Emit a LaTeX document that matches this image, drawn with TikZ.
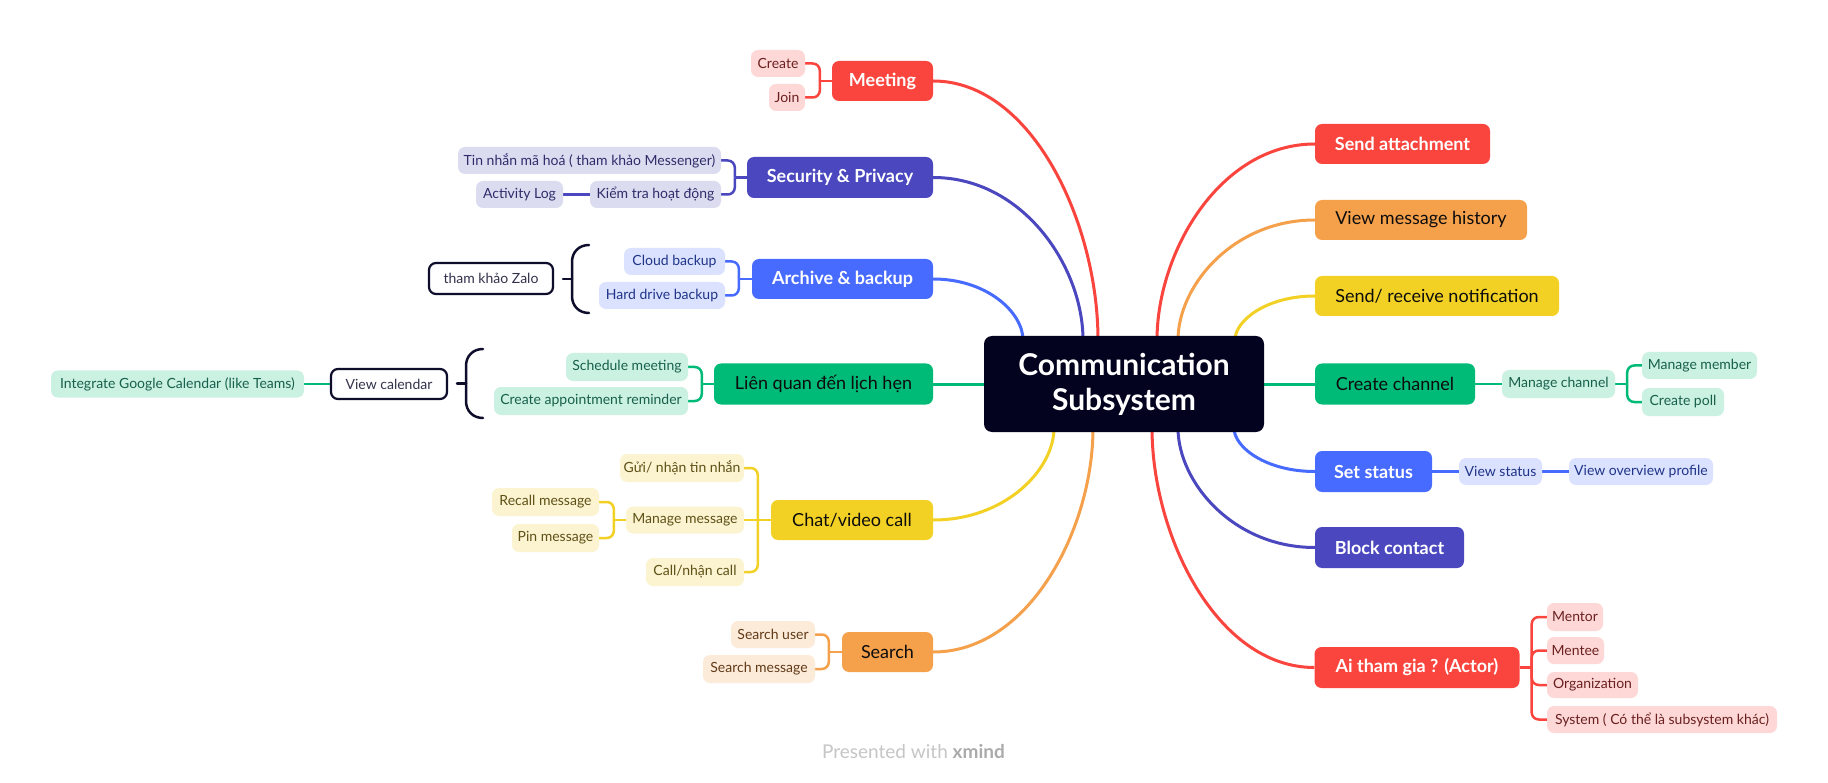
\documentclass[tikz,border=0pt]{standalone}
\usepackage{fontspec}
\setmainfont{Lato}
\usetikzlibrary{calc}
\pgfdeclarelayer{bg}
\pgfsetlayers{bg,main}
\definecolor{cRed}{HTML}{F9453D}
\definecolor{cIndigo}{HTML}{4A47BF}
\definecolor{cBlue}{HTML}{486BFF}
\definecolor{cGreen}{HTML}{00BA78}
\definecolor{cYellow}{HTML}{F2D124}
\definecolor{cOrange}{HTML}{F5A04B}
\definecolor{cRoot}{HTML}{03031F}
\definecolor{cBrace}{HTML}{0E0E2C}
\definecolor{lRed}{HTML}{FDD8D6}\definecolor{tRed}{HTML}{6B2020}
\definecolor{lIndigo}{HTML}{DCDCF1}\definecolor{tIndigo}{HTML}{2E2D6A}
\definecolor{lBlue}{HTML}{DBE2FF}\definecolor{tBlue}{HTML}{1F3488}
\definecolor{lGreen}{HTML}{CBF1E3}\definecolor{tGreen}{HTML}{17604A}
\definecolor{lYellow}{HTML}{FCF4D1}\definecolor{tYellow}{HTML}{5E5016}
\definecolor{lOrange}{HTML}{FDEBDA}\definecolor{tOrange}{HTML}{613A17}
\definecolor{cCredit}{HTML}{C6C6C6}
\definecolor{cCreditB}{HTML}{ABABAB}
\tikzset{
  base/.style={rounded corners=7pt, inner sep=0pt, align=center},
  mainW/.style={base, fill=#1, text=white, font=\fontsize{18}{20}\selectfont\bfseries},
  mainB/.style={base, fill=#1, text=black!95, font=\fontsize{18}{20}\selectfont},
  sub/.style 2 args={base, fill=#1, text=#2, font=\fontsize{14}{16}\selectfont},
  sz/.style 2 args={minimum width=#1pt, minimum height=#2pt},
  summ/.style={base, draw=cBrace, line width=2.2pt, fill=white, text=cBrace!85, font=\fontsize{14}{16}\selectfont},
  curve/.style={draw=#1, line width=3pt},
  elbow/.style={draw=#1, line width=2.5pt, rounded corners=7pt},
  straight/.style={draw=#1, line width=2.5pt},
  bracestyle/.style={draw=cBrace, line width=2.5pt, line cap=round},
}
\newcommand\bcurve[3]{\draw[curve=#1] (#2) .. controls ($(#2)!0.6!(#2 -| #3)$) and ($(#3)!0.45!(#3 |- #2)$) .. (#3) -- (root.center);}
\begin{document}
\begin{tikzpicture}[x=1pt,y=-1pt]
\useasboundingbox (0,0) rectangle (1828,783);
\begin{pgfonlayer}{bg}
\fill[white] (0,0) rectangle (1828,783);
\end{pgfonlayer}
% central
\node[base, rounded corners=8pt, fill=cRoot, text=white, font=\fontsize{30}{35}\selectfont\bfseries, sz={280}{96}] (root) at (1124,384) {Communication\\Subsystem};
% left main
\node[mainW=cRed, sz={101}{40}] (meet) at (882.5,81) {Meeting};
\node[mainW=cIndigo, sz={186}{41}] (sec) at (840,177.5) {Security \& Privacy};
\node[mainW=cBlue, sz={181}{40}] (arch) at (842.5,279) {Archive \& backup};
\node[mainB=cGreen, sz={219}{41}] (lien) at (823.5,384) {Liên quan đến lịch hẹn};
\node[mainB=cYellow, sz={162}{40}] (chat) at (852,520) {Chat/video call};
\node[mainB=cOrange, sz={91}{40}] (search) at (887.5,652) {Search};
% right main
\node[mainW=cRed, sz={175}{40}] (att) at (1402.5,144) {Send attachment};
\node[mainB=cOrange, sz={212}{40}] (hist) at (1421,220) {View message history};
\node[mainB=cYellow, sz={244}{40}] (notif) at (1437,296) {Send/ receive notification};
\node[mainB=cGreen, sz={160}{41}] (chan) at (1395,384) {Create channel};
\node[mainW=cBlue, sz={117}{41}] (status) at (1373.5,471.5) {Set status};
\node[mainW=cIndigo, sz={149}{41}] (block) at (1389.5,547.5) {Block contact};
\node[mainW=cRed, sz={205}{41}] (ai) at (1417,667.5) {Ai tham gia ? (Actor)};
% sub nodes left
\node[sub={lRed}{tRed}, sz={54}{27}] (create) at (778,63.5) {Create};
\node[sub={lRed}{tRed}, sz={36}{27}] (join) at (787,97.5) {Join};
\node[sub={lIndigo}{tIndigo}, sz={263}{27}] (tin) at (589.5,160.5) {Tin nhắn mã hoá ( tham khảo Messenger)};
\node[sub={lIndigo}{tIndigo}, sz={131}{27}] (kiem) at (655.5,194.5) {Kiểm tra hoạt động};
\node[sub={lIndigo}{tIndigo}, sz={87}{27}] (actlog) at (519.5,194.5) {Activity Log};
\node[sub={lBlue}{tBlue}, sz={101}{27}] (cloud) at (674.5,261.5) {Cloud backup};
\node[sub={lBlue}{tBlue}, sz={126}{27}] (hdd) at (662,295.5) {Hard drive backup};
\node[summ, sz={124}{31}] (zalo) at (491,278.5) {tham khảo Zalo};
\node[sub={lGreen}{tGreen}, sz={122}{28}] (sched) at (627,367) {Schedule meeting};
\node[sub={lGreen}{tGreen}, sz={194}{28}] (appt) at (591,401) {Create appointment reminder};
\node[summ, sz={116}{30}] (viewcal) at (389,384) {View calendar};
\node[sub={lGreen}{tGreen}, sz={253}{27}] (gcal) at (177.5,384) {Integrate Google Calendar (like Teams)};
\node[sub={lYellow}{tYellow}, sz={124}{28}] (gui) at (682,468) {Gửi/ nhận tin nhắn};
\node[sub={lYellow}{tYellow}, sz={118}{27}] (manage) at (685,520) {Manage message};
\node[sub={lYellow}{tYellow}, sz={98}{28}] (call) at (695,572) {Call/nhận call};
\node[sub={lYellow}{tYellow}, sz={107}{28}] (recall) at (545.5,502) {Recall message};
\node[sub={lYellow}{tYellow}, sz={87}{28}] (pin) at (555.5,538) {Pin message};
\node[sub={lOrange}{tOrange}, sz={84}{27}] (suser) at (773,634.5) {Search user};
\node[sub={lOrange}{tOrange}, sz={112}{28}] (smsg) at (759,669) {Search message};
% sub nodes right
\node[sub={lGreen}{tGreen}, sz={113}{28}] (mchan) at (1558.5,384) {Manage channel};
\node[sub={lGreen}{tGreen}, sz={115}{27}] (mmem) at (1699.5,365.5) {Manage member};
\node[sub={lGreen}{tGreen}, sz={82}{28}] (poll) at (1683,402) {Create poll};
\node[sub={lBlue}{tBlue}, sz={83}{27}] (vstatus) at (1500.5,471.5) {View status};
\node[sub={lBlue}{tBlue}, sz={144}{27}] (vprof) at (1641,471.5) {View overview profile};
\node[sub={lRed}{tRed}, sz={56}{28}] (mentor) at (1575,617) {Mentor};
\node[sub={lRed}{tRed}, sz={57}{27}] (mentee) at (1575.5,650.5) {Mentee};
\node[sub={lRed}{tRed}, sz={91}{26}] (org) at (1592.5,685) {Organization};
\node[sub={lRed}{tRed}, sz={230}{27}] (sys) at (1662,719.5) {System ( Có thể là subsystem khác)};
% credit
\node[text=cCredit, font=\fontsize{19}{22}\selectfont] (credit) at (913.5,752) {Presented with \textcolor{cCreditB}{\textbf{xmind}}};
% braces
\draw[bracestyle] (589,245) .. controls (579,245) and (572,252) .. (572,262) -- (572,296) .. controls (572,306) and (579,313) .. (589,313);
\draw[bracestyle] (563,279) -- (572,279);
\draw[bracestyle] (483,349) .. controls (473,349) and (466,356) .. (466,366) -- (466,401) .. controls (466,411) and (473,418) .. (483,418);
\draw[bracestyle] (457,383.5) -- (466,383.5);
% connectors
\begin{pgfonlayer}{bg}
\coordinate (cMeet) at (1098,340);
\coordinate (cSec) at (1083,340);
\coordinate (cArch) at (1023,340);
\coordinate (cAtt) at (1157,340);
\coordinate (cHist) at (1178,340);
\coordinate (cNotif) at (1235,340);
\coordinate (cChat) at (1054,428);
\coordinate (cSearch) at (1093,428);
\coordinate (cAi) at (1152,428);
\coordinate (cBlock) at (1178,428);
\coordinate (cStat) at (1234,428);
\bcurve{cRed}{meet.east}{cMeet}
\bcurve{cIndigo}{sec.east}{cSec}
\bcurve{cBlue}{arch.east}{cArch}
\bcurve{cYellow}{chat.east}{cChat}
\bcurve{cOrange}{search.east}{cSearch}
\bcurve{cRed}{att.west}{cAtt}
\bcurve{cOrange}{hist.west}{cHist}
\bcurve{cYellow}{notif.west}{cNotif}
\bcurve{cBlue}{status.west}{cStat}
\bcurve{cIndigo}{block.west}{cBlock}
\bcurve{cRed}{ai.west}{cAi}
\draw[curve=cGreen] (lien.east) -- (root.center);
\draw[curve=cGreen] (root.center) -- (chan.west);
% meeting
\coordinate (jMeet) at ($(meet.west)+(-12,0)$);
\draw[straight=cRed] (meet.west) -- (jMeet);
\draw[elbow=cRed] (jMeet) |- (create.east);
\draw[elbow=cRed] (jMeet) |- (join.east);
% security
\coordinate (jSec) at ($(sec.west)+(-12,0)$);
\draw[straight=cIndigo] (sec.west) -- (jSec);
\draw[elbow=cIndigo] (jSec) |- (tin.east);
\draw[elbow=cIndigo] (jSec) |- (kiem.east);
\draw[straight=cIndigo] (kiem.west) -- (actlog.east);
% archive
\coordinate (jArch) at ($(arch.west)+(-13,0)$);
\draw[straight=cBlue] (arch.west) -- (jArch);
\draw[elbow=cBlue] (jArch) |- (cloud.east);
\draw[elbow=cBlue] (jArch) |- (hdd.east);
% lien quan
\coordinate (jLien) at ($(lien.west)+(-12,0)$);
\draw[straight=cGreen] (lien.west) -- (jLien);
\draw[elbow=cGreen] (jLien) |- (sched.east);
\draw[elbow=cGreen] (jLien) |- (appt.east);
\draw[straight=cGreen] (gcal.east) -- (viewcal.west);
% chat
\coordinate (jChat) at ($(chat.west)+(-13,0)$);
\draw[straight=cYellow] (chat.west) -- (manage.east);
\draw[elbow=cYellow] (jChat) |- (gui.east);
\draw[elbow=cYellow] (jChat) |- (call.east);
\coordinate (jMan) at ($(manage.west)+(-12,0)$);
\draw[straight=cYellow] (manage.west) -- (jMan);
\draw[elbow=cYellow] (jMan) |- (recall.east);
\draw[elbow=cYellow] (jMan) |- (pin.east);
% search
\coordinate (jSearch) at ($(search.west)+(-13,0)$);
\draw[straight=cOrange] (search.west) -- (jSearch);
\draw[elbow=cOrange] (jSearch) |- (suser.east);
\draw[elbow=cOrange] (jSearch) |- (smsg.east);
% channel
\draw[straight=cGreen] (chan.east) -- (mchan.west);
\coordinate (jChan) at ($(mchan.east)+(12,0)$);
\draw[straight=cGreen] (mchan.east) -- (jChan);
\draw[elbow=cGreen] (jChan) |- (mmem.west);
\draw[elbow=cGreen] (jChan) |- (poll.west);
% status
\draw[straight=cBlue] (status.east) -- (vstatus.west);
\draw[straight=cBlue] (vstatus.east) -- (vprof.west);
% actors
\coordinate (jAi) at ($(ai.east)+(12,0)$);
\draw[straight=cRed] (ai.east) -- (jAi);
\draw[elbow=cRed] (jAi) |- (mentor.west);
\draw[elbow=cRed] (jAi) |- (mentee.west);
\draw[elbow=cRed] (jAi) |- (org.west);
\draw[elbow=cRed] (jAi) |- (sys.west);
\end{pgfonlayer}
\end{tikzpicture}
\end{document}
